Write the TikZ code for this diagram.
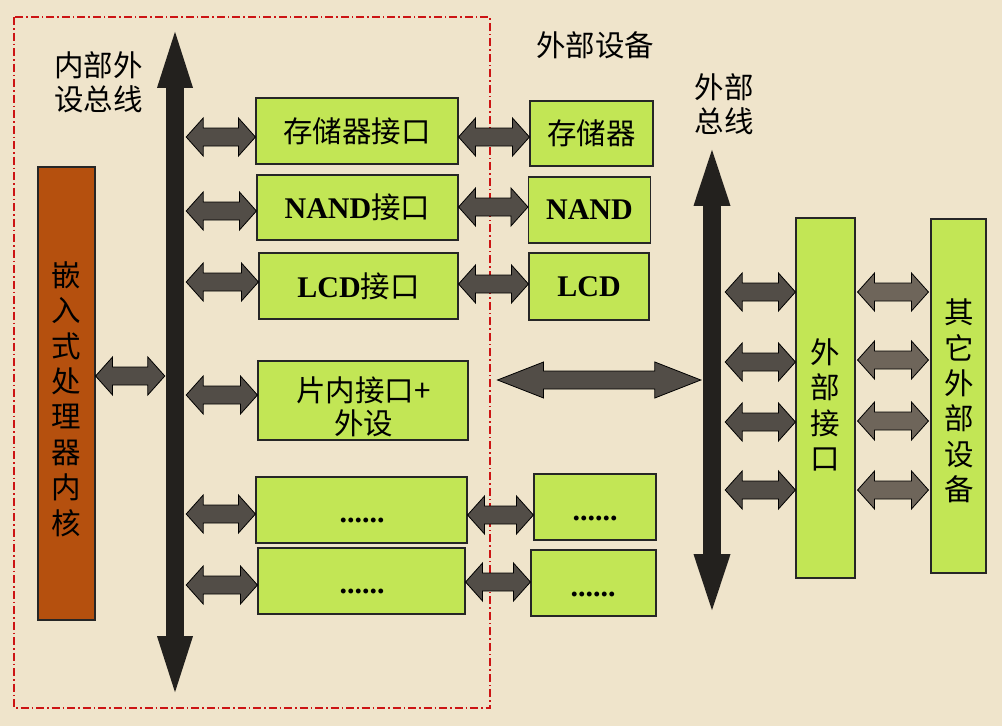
\documentclass[tikz,border=0pt]{standalone}
\usepackage{fontspec}
\setmainfont{Liberation Serif}
\newfontfamily\cjk{Noto Sans CJK SC}
\usetikzlibrary{calc}

\definecolor{paper}{HTML}{EFE4CB}
\definecolor{leaf}{HTML}{C2E655}
\definecolor{core}{HTML}{B5500E}
\definecolor{busc}{HTML}{23211E}
\definecolor{linkc}{HTML}{524D47}
\definecolor{linkl}{HTML}{6E655A}
\definecolor{frame}{HTML}{CC1414}

\newcommand\lat[1]{{\rmfamily\bfseries\fontsize{30}{34}\selectfont #1}}

% geometry of the double-headed block arrows
\newcommand\arrhl{17pt}
\newcommand\arrhh{19pt}
\newcommand\arrsh{9pt}
% \duplex[style]{left end}{right end}{y}
\newcommand\duplex[4][link]{%
  \path[#1] let \p1=(#2), \p2=(#3), \p3=(0,#4) in
    (\x1,\y3) -- (\x1+\arrhl,\y3+\arrhh) -- (\x1+\arrhl,\y3+\arrsh)
    -- (\x2-\arrhl,\y3+\arrsh) -- (\x2-\arrhl,\y3+\arrhh) -- (\x2,\y3)
    -- (\x2-\arrhl,\y3-\arrhh) -- (\x2-\arrhl,\y3-\arrsh)
    -- (\x1+\arrhl,\y3-\arrsh) -- (\x1+\arrhl,\y3-\arrhh) -- cycle;}

\tikzset{
  box/.style={draw=black!85, line width=1.1pt, fill=leaf, inner sep=0pt,
    font=\cjk\fontsize{29.5}{34}\selectfont, align=center},
  txt/.style={inner sep=0pt, align=center, font=\cjk\fontsize{29.5}{34}\selectfont},
  vtxt/.style={inner sep=0pt, align=center, font=\cjk\fontsize{29.5}{35.4}\selectfont},
  dots/.style={inner sep=0pt, anchor=base, font=\rmfamily\bfseries\fontsize{30}{34}\selectfont},
  busbar/.style={fill=busc, draw=none, inner sep=0pt, minimum width=18pt},
  link/.style={fill=linkc, draw=black, line width=0.8pt, line join=miter},
  linklight/.style={link, fill=linkl},
}

\begin{document}
\begin{tikzpicture}[x=1pt,y=-1pt]
  \fill[paper] (0,0) rectangle (1002,726);
  \useasboundingbox (0,0) rectangle (1002,726);

  % on-chip boundary
  \draw[frame, line width=1.2pt, dash pattern=on 8pt off 3pt on 1.5pt off 3pt]
    (14,17) rectangle (490,708);

  % internal peripheral bus
  \node[busbar, minimum height=550pt] (ibus) at (175,362) {};
  \fill[busc] ($(ibus.north)+(-18,1)$) -- ($(ibus.north)+(0,-55)$) -- ($(ibus.north)+(18,1)$) -- cycle;
  \fill[busc] ($(ibus.south)+(-18,-1)$) -- ($(ibus.south)+(0,55)$) -- ($(ibus.south)+(18,-1)$) -- cycle;

  % external bus
  \node[busbar, minimum height=350pt] (ebus) at (712,380) {};
  \fill[busc] ($(ebus.north)+(-18.5,1)$) -- ($(ebus.north)+(0,-55)$) -- ($(ebus.north)+(18.5,1)$) -- cycle;
  \fill[busc] ($(ebus.south)+(-18.5,-1)$) -- ($(ebus.south)+(0,55)$) -- ($(ebus.south)+(18.5,-1)$) -- cycle;

  % titles
  \node[txt] (tin) at (98.5,82) {\fontsize{29.5}{36}\selectfont 内部外\\设总线};
  \node[txt] (tdev) at (595,45) {外部设备};
  \node[txt] (tex) at (724,104) {\fontsize{29.5}{33}\selectfont 外部\\总线};

  % processor core
  \node[box, fill=core, minimum width=57pt, minimum height=453pt] (proc) at (66.5,393.5) {};
  \node[vtxt] (proct) at (66.5,399) {嵌\\入\\式\\处\\理\\器\\内\\核};

  % on-chip interfaces
  \node[box, minimum width=202pt, minimum height=66pt] (b1) at (357,131) {存储器接口};
  \node[box, minimum width=201pt, minimum height=65pt] (b2) at (357.5,207.5) {\lat{NAND}接口};
  \node[box, minimum width=199pt, minimum height=66pt] (b3) at (358.5,286) {\lat{LCD}接口};
  \node[box, minimum width=210pt, minimum height=79pt] (b4) at (363,400.5) {};
  \node[txt, font=\cjk\fontsize{29.5}{33}\selectfont] (b4t) at (363.5,406.5) {片内接口+\\外设};
  \node[box, minimum width=211pt, minimum height=66pt] (b5) at (361.5,510) {};
  \node[dots] (b5t) at (362,522) {......};
  \node[box, minimum width=207pt, minimum height=66pt] (b6) at (361.5,581) {};
  \node[dots] (b6t) at (362,593) {......};

  % external devices
  \node[box, minimum width=123pt, minimum height=65pt] (e1) at (591.5,133.5) {存储器};
  \node[box, minimum width=122pt, minimum height=66pt] (e2) at (589.5,210) {\lat{NAND}};
  \node[box, minimum width=120pt, minimum height=67pt] (e3) at (589,286.5) {\lat{LCD}};
  \node[box, minimum width=122pt, minimum height=66pt] (e5) at (595,507) {};
  \node[dots] (e5t) at (595,520) {......};
  \node[box, minimum width=125pt, minimum height=66pt] (e6) at (593.5,583) {};
  \node[dots] (e6t) at (593,596) {......};

  % external interface and other devices
  \node[box, minimum width=59pt, minimum height=360pt] (xif) at (825.5,398) {};
  \node[vtxt] (xift) at (825,405) {外\\部\\接\\口};
  \node[box, minimum width=55pt, minimum height=354pt] (oth) at (958.5,396) {};
  \node[vtxt] (otht) at (959,401) {其\\它\\外\\部\\设\\备};

  % core <-> internal bus
  \duplex{proc.east}{$(ibus.west)+(-1,0)$}{376}

  % internal bus <-> on-chip interfaces
  \duplex{$(ibus.east)+(2,0)$}{b1.west}{137}
  \duplex{$(ibus.east)+(2,0)$}{b2.west}{211}
  \duplex{$(ibus.east)+(2,0)$}{b3.west}{282}
  \duplex{$(ibus.east)+(2,0)$}{b4.west}{395}
  \duplex{$(ibus.east)+(2,0)$}{b5.west}{514}
  \duplex{$(ibus.east)+(2,0)$}{b6.west}{585}

  % on-chip interfaces <-> external devices
  \duplex{b1.east}{e1.west}{137}
  \duplex{b2.east}{e2.west}{207}
  \duplex{b3.east}{e3.west}{284}
  \duplex{b5.east}{e5.west}{515}
  \duplex{b6.east}{e6.west}{582}

  % on-chip peripherals <-> external bus
  {\renewcommand\arrhl{46pt}\renewcommand\arrhh{18pt}
   \duplex{$(b4.east)+(29,0)$}{$(ebus.west)+(-2,0)$}{380}}

  % external bus <-> external interface
  \duplex{$(ebus.east)+(4,0)$}{xif.west}{292}
  \duplex{$(ebus.east)+(4,0)$}{xif.west}{362}
  \duplex{$(ebus.east)+(4,0)$}{xif.west}{422}
  \duplex{$(ebus.east)+(4,0)$}{xif.west}{490}

  % external interface <-> other devices
  \duplex[linklight]{$(xif.east)+(2,0)$}{$(oth.west)+(-2,0)$}{292}
  \duplex[linklight]{$(xif.east)+(2,0)$}{$(oth.west)+(-2,0)$}{360}
  \duplex[linklight]{$(xif.east)+(2,0)$}{$(oth.west)+(-2,0)$}{421}
  \duplex[linklight]{$(xif.east)+(2,0)$}{$(oth.west)+(-2,0)$}{490}
\end{tikzpicture}
\end{document}
